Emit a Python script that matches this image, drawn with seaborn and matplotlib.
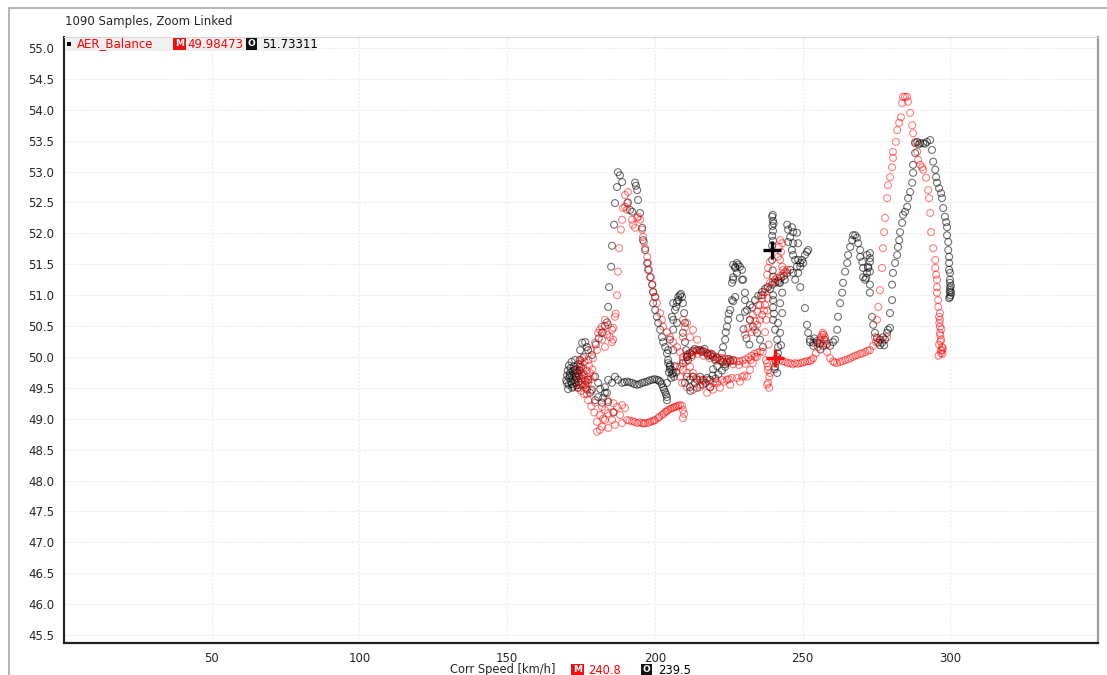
import matplotlib
matplotlib.use("Agg")
import matplotlib.pyplot as plt
import seaborn as sns
import pandas as pd
from matplotlib.ticker import MultipleLocator, FixedLocator, FormatStrFormatter
from matplotlib.lines import Line2D
from matplotlib.patches import Rectangle

# ---------------- data: (Corr Speed [km/h], AER_Balance) ----------------
black_cluster = [(170.0,49.62),(170.3,49.70),(170.5,49.78),(170.8,49.55),(171.0,49.66),(171.3,49.74),(171.5,49.82),(171.6,49.60),(172.0,49.69),(172.2,49.77),(172.4,49.52),(172.6,49.85),(172.8,49.63),(173.0,49.72),(173.2,49.58),(173.4,49.80),(173.6,49.66),(173.8,49.74),(174.0,49.88),(174.2,49.60),(174.4,49.69),(174.6,49.78),(174.9,49.55),(175.1,49.83),(171.8,49.92),(173.0,49.95),(170.6,49.48),(172.0,49.50),(174.0,49.50),(175.5,49.70),(170.2,49.58),(170.9,49.86),(171.9,49.56),(172.9,49.79),(173.5,49.54),(174.5,49.84),(171.2,49.70),(173.2,49.68)]
black_rise_left = [(175.4,50.23),(176.4,50.24),(177.0,50.16),(174.7,50.11),(177.4,50.11),(178.7,50.03),(174.7,49.95),(176.0,50.00),(180.0,50.20),(181.0,50.30),(182.1,50.39),(183.1,50.50),(183.8,50.56),(184.2,50.81),(184.5,51.13),(185.2,51.46),(185.5,51.80),(186.2,52.14),(186.5,52.49),(187.2,52.75),(187.5,52.99),(188.2,52.94),(188.9,52.83)]
black_peak_left = [(193.3,52.82),(194.0,52.70),(194.3,52.54),(191.6,52.38),(192.3,52.35),(195.0,52.33),(195.7,52.09),(196.0,51.89),(196.7,51.73),(197.4,51.52),(197.7,51.41),(198.4,51.29),(199.1,51.17),(199.4,51.05),(200.1,50.97),(199.4,50.87),(200.1,50.76),(200.7,50.65),(201.1,50.55),(201.8,50.44),(202.4,50.32),(202.8,50.24),(203.5,50.16),(204.1,50.06),(204.5,49.95),(205.1,49.87),(205.8,49.79),(206.2,49.74),(190.9,52.50),(193.6,52.77)]
black_wave = [(177.4,49.63),(179.8,49.68),(180.8,49.58),(183.1,49.51),(184.2,49.63),(185.5,49.58),(186.5,49.68),(187.5,49.63),(178.7,49.47),(180.8,49.35),(183.1,49.42),(179.8,49.30),(182.1,49.26),(177.0,49.47),(178.1,49.42),(182.5,49.34),(183.8,49.42),(184.2,49.27),(186.0,49.10),(176.5,49.55),(181.5,49.48),(188.9,49.58),(189.7,49.59),(190.6,49.60),(191.4,49.59),(192.3,49.58),(193.1,49.56),(194.0,49.55),(194.8,49.56),(195.7,49.58),(196.5,49.59),(197.4,49.60),(198.2,49.62),(199.1,49.63),(199.9,49.64),(200.7,49.63),(201.3,49.62),(201.8,49.60),(202.3,49.56),(202.8,49.51),(203.1,49.47),(203.5,49.43),(203.8,49.39),(204.1,49.35),(204.1,49.30)]
black_spike_207 = [(204.1,49.58),(205.1,49.84),(206.2,50.11),(207.5,50.55),(206.2,50.60),(206.8,50.76),(207.5,50.89),(207.9,50.97),(208.5,51.00),(209.2,50.97),(209.5,50.87),(209.9,50.71),(210.2,50.55),(209.5,50.39),(210.2,50.24),(210.6,50.11),(210.9,50.00),(211.2,49.95),(206.2,50.87),(207.2,50.81),(205.8,50.65),(206.2,50.44),(205.1,50.28),(204.5,50.11),(204.5,49.90),(205.1,49.80),(205.8,49.72),(206.5,49.68),(207.2,49.75),(205.5,49.66),(206.8,49.85),(204.8,49.75),(208.0,50.92),(208.8,51.02)]
black_band = [(209.5,49.90),(210.9,50.00),(211.9,50.06),(212.9,50.10),(214.3,50.11),(215.3,50.11),(216.3,50.10),(217.7,50.06),(218.7,50.03),(219.7,50.00),(221.1,49.98),(222.1,49.95),(223.1,49.92),(224.4,49.92),(225.5,49.93),(226.5,49.95),(211.0,50.04),(213.5,50.13),(215.8,50.08),(218.0,50.02),(220.5,49.96),(223.8,49.88),(225.0,49.97),(212.5,50.03),(216.8,50.13),(219.2,50.05)]
black_low = [(210.9,49.68),(211.9,49.63),(212.9,49.68),(214.3,49.63),(215.3,49.68),(216.3,49.63),(217.7,49.66),(218.7,49.63),(211.9,49.51),(214.3,49.50),(216.3,49.55),(218.7,49.51),(213.5,49.58),(217.2,49.58),(219.5,49.70),(220.5,49.65),(221.5,49.72),(212.0,49.45),(210.2,49.58),(219.7,49.80),(221.1,49.85),(222.7,49.78),(223.8,49.84)]
black_spike_226 = [(222.7,50.06),(223.1,50.16),(223.8,50.28),(224.4,50.49),(224.8,50.60),(225.5,50.76),(226.1,50.92),(226.5,50.90),(227.2,50.97),(226.1,51.20),(226.5,51.29),(227.2,51.46),(227.8,51.52),(228.2,51.49),(228.8,51.46),(229.5,51.41),(229.9,51.25),(230.5,51.04),(226.5,51.49),(227.2,51.44),(227.8,51.36),(229.5,51.25),(226.5,51.25),(225.0,50.70),(224.0,50.40),(230.5,50.92),(231.2,50.76),(232.2,50.60),(233.2,50.49),(234.6,50.39),(235.6,50.28),(236.6,50.16),(230.0,50.45),(231.0,50.30),(232.0,50.20)]
black_diag = [(228.8,50.63),(230.5,50.73),(232.2,50.84),(233.9,50.92),(235.0,50.99),(236.3,51.05),(237.3,51.10),(238.3,51.13),(239.7,51.17),(240.7,51.20),(241.7,51.23),(242.7,51.28),(243.7,51.31),(244.8,51.36),(245.8,51.41),(233.0,50.80),(236.0,51.00),(239.0,51.10),(242.0,51.20),(244.0,51.25)]
black_col_240 = [(239.7,52.27),(240.0,52.20),(239.8,52.12),(240.0,52.04),(239.7,51.96),(240.0,51.88),(239.7,51.80),(239.7,51.57),(239.9,51.40),(240.0,51.30),(240.0,51.00),(240.0,50.92),(240.0,50.80),(240.0,50.60),(240.7,50.44),(241.4,50.28),(241.7,50.16),(241.4,50.00),(240.7,49.84),(241.4,49.74),(240.5,49.80),(241.0,49.92),(240.3,50.70),(239.9,52.30),(240.2,52.16)]
black_col_242 = [(242.4,51.20),(243.1,51.04),(242.4,50.87),(243.1,50.71),(241.7,50.55),(242.4,50.39),(242.7,50.19),(241.7,50.06)]
black_spike_250 = [(244.8,52.14),(245.1,52.06),(246.4,52.10),(246.8,52.02),(248.1,52.01),(245.8,51.94),(245.1,51.86),(246.8,51.84),(246.4,51.73),(246.8,51.65),(247.5,51.57),(248.5,51.84),(249.2,51.52),(248.1,51.46),(246.8,51.36),(247.5,51.25),(248.5,51.57),(249.8,51.57),(250.8,51.65),(251.5,51.70),(251.9,51.73),(250.2,51.52),(249.2,51.46),(248.5,51.36),(249.2,51.13),(250.8,50.79),(251.5,50.52),(251.9,50.39),(252.5,50.28),(253.6,50.23),(254.9,50.23),(252.5,50.24),(253.6,50.18),(254.9,50.26),(255.9,50.21),(256.9,50.18),(258.3,50.21),(259.3,50.18),(260.3,50.24),(254.0,50.30),(257.5,50.28),(256.0,50.12)]
black_peak_266 = [(261.0,50.28),(261.7,50.44),(262.0,50.65),(262.7,50.87),(263.4,51.04),(263.7,51.20),(264.4,51.38),(265.1,51.52),(265.4,51.65),(266.1,51.78),(266.8,51.89),(267.1,51.97),(267.8,51.97),(268.4,51.93),(268.8,51.84),(269.5,51.73),(269.5,51.62),(270.2,51.54),(270.5,51.44),(270.5,51.29),(271.2,51.25),(271.8,51.36),(272.2,51.46),(272.8,51.60),(272.8,51.68),(271.8,51.65),(272.8,51.54),(272.2,51.44),(271.5,51.28),(272.8,51.38),(272.8,51.17),(272.8,51.04),(273.5,50.65),(273.9,50.52),(274.5,50.39),(275.2,50.31),(275.6,50.23),(276.2,50.28),(276.9,50.23),(277.2,50.32),(277.9,50.28),(278.6,50.39),(278.9,50.44),(279.6,50.47),(276.2,50.19),(277.6,50.19)]
black_peak_290 = [(279.6,50.71),(280.3,50.92),(280.3,51.17),(280.6,51.36),(281.3,51.52),(282.0,51.65),(282.3,51.78),(282.7,51.89),(283.0,52.02),(283.7,52.17),(284.0,52.30),(284.7,52.35),(285.4,52.43),(285.7,52.57),(286.4,52.67),(287.1,52.82),(287.4,52.98),(287.4,53.11),(288.1,53.30),(288.1,53.46),(288.8,53.48),(289.8,53.46),(290.8,53.46),(292.1,53.48),(293.2,53.51),(293.8,53.35),(294.2,53.16),(294.9,53.03),(295.2,52.91),(295.5,52.82),(296.2,52.73),(296.9,52.65),(297.2,52.57),(297.6,52.41),(298.2,52.27),(298.6,52.18),(298.9,52.10),(298.9,51.97),(299.3,51.86),(299.3,51.73),(299.6,51.62),(299.6,51.52),(299.6,51.41),(299.9,51.36),(299.9,51.25),(299.9,51.20),(299.9,51.12),(300.3,51.04),(299.9,50.97),(299.6,50.95),(300.0,51.08),(300.1,51.00),(299.8,51.05),(300.2,51.15),(289.3,53.44),(291.5,53.45)]

red_cluster = [(173.7,49.80),(174.0,49.70),(174.3,49.60),(174.7,49.88),(175.0,49.75),(175.2,49.65),(175.4,49.55),(175.7,49.82),(176.0,49.72),(176.2,49.92),(176.4,49.62),(176.7,49.50),(177.0,49.78),(177.2,49.68),(177.4,49.58),(177.7,49.86),(178.0,49.74),(178.2,49.64),(178.5,49.45),(176.0,49.40),(175.0,49.45),(177.0,49.40),(174.5,49.95),(178.8,49.80),(179.2,49.68),(173.9,49.50),(175.5,49.98),(176.8,49.60),(175.8,49.52),(177.5,49.95)]
red_rise_left = [(178.4,50.11),(179.0,49.98),(179.8,50.23),(180.4,50.11),(180.8,50.39),(181.4,50.44),(182.1,50.28),(182.1,50.49),(182.5,50.40),(183.1,50.16),(183.1,50.60),(183.8,50.36),(184.2,50.52),(184.8,50.32),(185.5,50.44),(185.5,50.24),(185.9,50.28),(185.9,50.47),(186.5,50.65)]
red_low_left = [(177.4,49.30),(179.8,49.26),(182.1,49.19),(181.4,49.06),(183.1,49.14),(184.2,49.09),(185.9,49.11),(187.2,49.19),(188.9,49.22),(189.9,49.17),(188.2,49.06),(185.5,48.98),(183.1,48.98),(180.4,48.95),(182.1,48.87),(184.2,48.85),(186.5,48.90),(188.9,48.93),(181.4,48.82),(182.5,49.00),(180.4,48.79),(178.5,49.20),(179.5,49.10),(186.0,49.25),(184.0,49.30)]
red_low_line = [(190.6,48.98),(191.4,48.97),(192.3,48.96),(193.1,48.95),(194.0,48.93),(194.8,48.94),(195.7,48.93),(196.2,48.92),(196.7,48.93),(197.7,48.93),(198.4,48.95),(199.1,48.96),(199.7,48.97),(200.1,48.98),(201.1,49.01),(201.5,49.03),(202.4,49.06),(203.0,49.08),(203.5,49.11),(204.0,49.12),(204.5,49.14),(205.2,49.16),(205.8,49.17),(206.3,49.18),(206.8,49.19),(207.3,49.20),(207.9,49.21),(208.5,49.22),(209.2,49.21),(209.5,49.14),(209.9,49.08),(209.5,49.01)]
red_peak_left = [(187.2,51.00),(187.5,51.38),(187.9,51.76),(188.5,52.06),(188.9,52.22),(189.2,52.41),(189.9,52.62),(190.6,52.49),(190.9,52.67),(189.9,52.43),(190.6,52.38),(192.3,52.22),(192.6,52.14),(193.3,52.09),(194.0,52.25),(194.3,52.27),(195.0,52.22),(195.7,52.06),(196.0,51.94),(196.3,51.86),(196.7,51.76),(197.4,51.62),(197.7,51.52),(198.0,51.41),(198.7,51.29),(199.1,51.17),(199.4,51.05),(200.1,50.97),(200.7,50.87),(201.8,50.71),(202.4,50.60),(202.8,50.49),(204.1,50.40),(205.1,50.32),(206.2,50.24),(207.5,50.16),(208.5,50.08),(209.5,50.00),(186.7,50.70)]
red_scatter_mid = [(209.5,50.60),(210.9,50.55),(212.9,50.44),(211.9,50.32),(214.3,50.28),(209.5,50.32),(210.2,50.48)]
red_band_upper = [(209.5,49.95),(210.9,50.02),(211.9,50.06),(212.9,50.08),(213.9,50.10),(214.9,50.11),(215.9,50.10),(216.9,50.08),(217.9,50.06),(218.9,50.05),(219.7,50.03),(220.7,50.00),(221.7,49.99),(222.7,49.98),(223.7,49.97),(224.7,49.96),(225.7,49.95),(226.7,49.94),(227.7,49.93),(228.7,49.93),(229.7,49.94),(230.7,49.96),(231.7,49.99),(232.7,50.02),(233.7,50.05),(234.7,50.07),(235.7,50.09),(236.5,50.08),(210.5,49.92),(212.5,50.00),(214.5,50.05),(216.5,50.02),(218.5,49.98),(220.5,49.94),(222.5,49.92),(224.5,49.90),(226.5,49.88),(228.5,49.87),(230.5,49.89),(232.5,49.95),(234.5,50.00)]
red_band_lower = [(208.5,49.84),(209.5,49.79),(211.9,49.84),(210.9,49.74),(212.9,49.74),(212.9,49.68),(215.3,49.63),(217.7,49.63),(219.7,49.58),(221.1,49.58),(222.7,49.63),(224.4,49.63),(226.1,49.66),(227.8,49.66),(229.5,49.68),(231.2,49.68),(232.2,49.79),(233.2,49.90),(233.9,50.00),(215.3,49.55),(218.7,49.51),(222.1,49.50),(225.5,49.55),(228.8,49.60),(210.9,49.51),(212.9,49.47),(215.3,49.51),(217.7,49.42),(219.7,49.47),(207.5,49.84),(208.5,49.68),(209.2,49.58),(214.0,49.66),(216.5,49.61),(220.5,49.60),(223.5,49.60),(225.0,49.64),(230.3,49.70)]
red_diag = [(230.5,50.36),(231.6,50.47),(232.2,50.60),(233.2,50.68),(234.6,50.73),(235.6,50.84),(236.3,50.95),(237.3,51.05),(238.0,51.13),(239.0,51.20),(240.0,51.22),(240.7,51.25),(241.4,51.28),(242.4,51.31),(243.4,51.34),(244.1,51.38),(244.8,51.41),(234.6,50.52),(235.6,50.60),(233.9,50.44),(236.3,50.68),(235.0,50.84),(237.3,50.84),(236.6,51.00),(238.0,51.33),(238.3,51.44),(239.0,51.54),(237.0,50.75),(234.0,50.58),(232.8,50.40)]
red_spike_238 = [(238.0,49.90),(238.3,49.79),(238.7,49.68),(238.3,49.58),(238.7,49.50),(238.0,49.55),(238.3,49.84),(239.0,49.74),(237.3,50.40),(237.7,50.60),(238.0,50.75),(238.3,50.95),(237.6,49.95),(238.5,50.20),(242.4,51.89),(243.1,51.84),(242.4,51.57),(243.1,51.46),(243.4,51.41),(242.7,51.70),(241.7,51.62),(242.0,51.78)]
red_band_right = [(240.7,49.95),(241.5,49.97),(242.4,49.95),(243.2,49.93),(244.1,49.92),(245.0,49.90),(245.8,49.90),(246.6,49.88),(247.5,49.90),(248.3,49.89),(249.2,49.90),(250.0,49.91),(250.8,49.92),(251.7,49.93),(252.5,49.93),(253.0,49.95),(253.6,49.98),(254.5,50.06),(255.2,50.16),(255.9,50.28),(256.6,50.36),(256.9,50.39),(257.6,50.32),(257.9,50.19),(258.3,50.08),(259.3,49.98),(260.3,49.93),(260.8,49.91),(261.7,49.90),(262.7,49.92),(263.5,49.93),(264.4,49.95),(265.3,49.96),(266.1,49.98),(267.0,50.00),(267.8,50.02),(268.6,50.03),(269.5,50.05),(270.3,50.06),(271.2,50.08),(272.0,50.10),(272.8,50.11),(273.9,50.18),(274.9,50.24),(276.2,50.28),(278.6,50.32),(255.5,50.22),(256.2,50.32),(257.2,50.36),(258.0,50.25)]
red_peak_285 = [(274.5,50.32),(275.2,50.60),(275.6,50.81),(276.2,51.08),(276.9,51.44),(277.2,51.76),(277.6,52.02),(277.9,52.25),(278.6,52.57),(278.9,52.78),(279.6,52.91),(280.3,53.07),(280.6,53.22),(280.6,53.32),(281.6,53.48),(282.0,53.67),(282.7,53.79),(283.3,53.88),(283.7,54.11),(284.0,54.21),(284.7,54.21),(285.4,54.21),(285.7,54.13),(286.4,53.95),(287.1,53.75),(287.4,53.62),(288.1,53.48),(288.8,53.32),(289.1,53.19),(289.8,53.11),(290.5,53.07),(290.8,53.03),(291.8,52.90),(292.5,52.70),(292.8,52.57),(293.2,52.33),(293.5,52.02),(294.2,51.76),(294.9,51.57),(294.9,51.44),(295.2,51.33),(295.5,51.25),(295.5,51.13),(295.5,51.04),(295.9,50.92),(295.9,50.81),(296.5,50.71),(296.5,50.60),(296.5,50.49),(296.5,50.39),(296.9,50.28),(297.2,50.16),(297.2,50.11),(296.9,50.06),(296.2,50.20),(296.8,50.10),(297.4,50.05),(296.6,50.35),(297.0,50.45),(296.3,50.55),(297.5,50.14),(296.0,50.02),(296.2,50.65),(296.7,50.25)]

cursor_red = (240.8, 49.98473)
cursor_black = (239.5, 51.73311)
title_text = "1090 Samples, Zoom Linked"
channel_name = "AER_Balance"
x_label = "Corr Speed [km/h]"
x_ticks = [50, 100, 150, 200, 250, 300]
y_ticks = [45.5, 46.0, 46.5, 47.0, 47.5, 48.0, 48.5, 49.0, 49.5, 50.0, 50.5,
           51.0, 51.5, 52.0, 52.5, 53.0, 53.5, 54.0, 54.5, 55.0]

black_pts = (black_cluster + black_rise_left + black_peak_left + black_wave + black_spike_207
             + black_band + black_low + black_spike_226 + black_diag + black_col_240
             + black_col_242 + black_spike_250 + black_peak_266 + black_peak_290)
red_pts = (red_cluster + red_rise_left + red_low_left + red_low_line + red_peak_left
           + red_scatter_mid + red_band_upper + red_band_lower + red_diag + red_spike_238
           + red_band_right + red_peak_285)
df_black = pd.DataFrame(black_pts, columns=["speed", "balance"])
df_red = pd.DataFrame(red_pts, columns=["speed", "balance"])

# ---------------- figure ----------------
sns.set_style("white")
plt.rcParams["font.family"] = ["DejaVu Sans"]
W, H = 1107, 675
fig = plt.figure(figsize=(W / 100, H / 100), dpi=100)
ax = fig.add_axes([64 / W, 1 - 643 / H, (1098 - 64) / W, (643 - 37) / H])

sns.scatterplot(data=df_black, x="speed", y="balance", ax=ax, marker="o", s=25,
                facecolor="none", edgecolor="black", linewidth=0.8, alpha=0.55,
                legend=False, zorder=3)
sns.scatterplot(data=df_red, x="speed", y="balance", ax=ax, marker="o", s=25,
                facecolor="none", edgecolor="#ff0000", linewidth=0.8, alpha=0.5,
                legend=False, zorder=3)

ax.plot([cursor_black[0]], [cursor_black[1]], marker="+", ms=13, mew=2.4,
        color="black", zorder=6, linestyle="none")
ax.plot([cursor_red[0]], [cursor_red[1]], marker="+", ms=13, mew=2.4,
        color="#ff1010", zorder=6, linestyle="none")

ax.set_xlim(0, 350)
ax.set_ylim(45.37, 55.178)
ax.set_xticks(x_ticks)
ax.xaxis.set_minor_locator(FixedLocator([v for v in range(10, 350, 10) if v % 50]))
ax.set_yticks(y_ticks)
ax.yaxis.set_minor_locator(MultipleLocator(0.1))
ax.yaxis.set_major_formatter(FormatStrFormatter("%.1f"))
ax.set_xlabel("")
ax.set_ylabel("")
ax.tick_params(axis="both", which="major", direction="out", length=5, width=1,
               labelsize=8.5, pad=2, color="#202020")
ax.tick_params(axis="both", which="minor", direction="out", length=3, width=0.9,
               color="#202020")
ax.tick_params(axis="x", which="major", length=6, pad=0.5)
ax.grid(True, which="major", color="#ececec", linewidth=0.8, linestyle=(0, (2, 1.5)))
ax.set_axisbelow(True)
for side, col, lw in [("left", "#202020", 1.5), ("bottom", "#202020", 1.6),
                      ("right", "#9a9a9a", 1.6), ("top", "#d8d8d8", 0.8)]:
    ax.spines[side].set_color(col)
    ax.spines[side].set_linewidth(lw)
    ax.spines[side].set_visible(True)

# outer frame
fig.add_artist(Line2D([9 / W, 9 / W], [0, 1 - 8 / H], color="#a8a8a8", lw=1.2))
fig.add_artist(Line2D([9 / W, 1], [1 - 8 / H, 1 - 8 / H], color="#a8a8a8", lw=1.2))

# title
fig.text(65 / W, 1 - 22 / H, title_text, fontsize=8.5, ha="left", va="center")

# legend strip
fig.add_artist(Rectangle((64.8 / W, 1 - 51 / H), (315 - 65) / W, 13 / H,
                         facecolor="#f0f0f0", edgecolor="none", zorder=4))
fig.add_artist(Rectangle((66.5 / W, 1 - 46 / H), 4 / W, 4 / H,
                         facecolor="black", edgecolor="none", zorder=5))
ly = 1 - 44 / H
fig.text(77 / W, ly, channel_name, color="#ff0000", fontsize=8.5, va="center", zorder=6)
fig.text(179.5 / W, ly, "M", color="white", fontsize=6.5, fontweight="bold",
         ha="center", va="center", zorder=6,
         bbox=dict(boxstyle="square,pad=0.18", fc="#ee1111", ec="none"))
fig.text(187 / W, ly, f"{cursor_red[1]:.5f}", color="#ff0000", fontsize=8.5,
         va="center", zorder=6)
fig.text(251.5 / W, ly, "O", color="white", fontsize=6.5, fontweight="bold",
         ha="center", va="center", zorder=6,
         bbox=dict(boxstyle="square,pad=0.18", fc="#111111", ec="none"))
fig.text(262 / W, ly, f"{cursor_black[1]:.5f}", color="black", fontsize=8.5,
         va="center", zorder=6)

# bottom label with cursor values
by = 1 - 670 / H
fig.text(450 / W, by, x_label, fontsize=8.3, ha="left", va="center")
fig.text(577.5 / W, by, "M", color="white", fontsize=6.5, fontweight="bold",
         ha="center", va="center",
         bbox=dict(boxstyle="square,pad=0.18", fc="#ee1111", ec="none"))
fig.text(588 / W, by, f"{cursor_red[0]:.1f}", color="#ff0000", fontsize=8.3,
         ha="left", va="center")
fig.text(646.5 / W, by, "O", color="white", fontsize=6.5, fontweight="bold",
         ha="center", va="center",
         bbox=dict(boxstyle="square,pad=0.18", fc="#111111", ec="none"))
fig.text(658 / W, by, f"{cursor_black[0]:.1f}", color="black", fontsize=8.3,
         ha="left", va="center")

fig.savefig("out.png", dpi=100)
